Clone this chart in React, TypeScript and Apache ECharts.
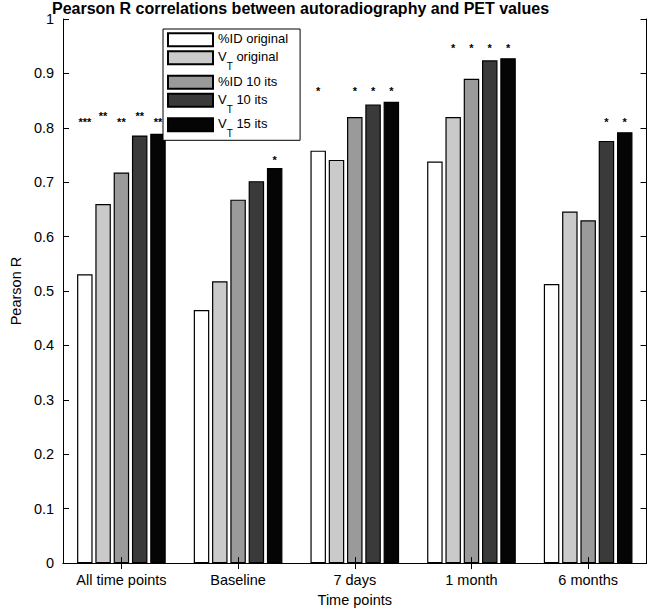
import React, { useEffect, useRef } from "react";
import * as echarts from "echarts";

const categories = ["All time points", "Baseline", "7 days", "1 month", "6 months"];
const seriesNames = ["%ID original", "V_T original", "%ID 10 its", "V_T 10 its", "V_T 15 its"];
const idOriginal = [0.531, 0.465, 0.758, 0.738, 0.513];
const vtOriginal = [0.66, 0.518, 0.741, 0.82, 0.646];
const id10its = [0.718, 0.668, 0.82, 0.89, 0.63];
const vt10its = [0.786, 0.702, 0.843, 0.924, 0.776];
const vt15its = [0.789, 0.726, 0.848, 0.928, 0.792];
const seriesValues = [idOriginal, vtOriginal, id10its, vt10its, vt15its];
const barColors = ["#ffffff", "#cacaca", "#9a9a9a", "#3a3a3a", "#050505"];

// significance marks: [category index, series index, level]
const sigMarks = [
  [0, 0, 0.8155], [0, 1, 0.828], [0, 2, 0.8155], [0, 3, 0.828], [0, 4, 0.8155],
  [1, 4, 0.746],
  [2, 0, 0.874], [2, 2, 0.874], [2, 3, 0.874], [2, 4, 0.874],
  [3, 1, 0.953], [3, 2, 0.953], [3, 3, 0.953], [3, 4, 0.953],
  [4, 3, 0.817], [4, 4, 0.817],
];
const sigText = [
  "***", "**", "**", "**", "**",
  "*",
  "*", "*", "*", "*",
  "*", "*", "*", "*",
  "*", "*",
];

const FONT = "'Liberation Sans', Arial, Helvetica, sans-serif";
const BAR_W = 15.5;
const BAR_GAP = 0.18;
const BAR_STEP = BAR_W * (1 + BAR_GAP);

export default function App() {
  const ref = useRef<HTMLDivElement>(null);
  useEffect(() => {
    if (!ref.current) return;
    const chart = echarts.init(ref.current, null, { renderer: "svg" });
    const legendFormatter = (name: string) => {
      if (name.startsWith("V_T")) {
        return "{n|V}{s|T}{n|" + name.slice(3) + "}";
      }
      return "{n|" + name + "}";
    };
    const axisCommon = {
      axisLine: { show: true, lineStyle: { color: "#000", width: 1 } },
      splitLine: { show: false },
    };
    chart.setOption({
      animation: false,
      backgroundColor: "#fff",
      textStyle: { fontFamily: FONT },
      title: {
        text: "Pearson R correlations between autoradiography and PET values",
        left: 52,
        top: 0,
        padding: 0,
        textStyle: { fontSize: 16, fontWeight: "bold", color: "#000", fontFamily: FONT },
      },
      grid: { left: 50.5, right: 1.5, top: 19, bottom: 45.5, show: false },
      legend: {
        orient: "vertical",
        left: 163,
        top: 29,
        itemWidth: 45,
        itemHeight: 13,
        itemGap: 3,
        padding: [3.3, 12, 1.5, 4],
        borderColor: "#000",
        borderWidth: 1,
        backgroundColor: "#fff",
        icon: "rect",
        selectedMode: false,
        data: seriesNames,
        formatter: legendFormatter,
        textStyle: {
          color: "#000",
          fontFamily: FONT,
          rich: {
            n: { fontSize: 13, lineHeight: 15, verticalAlign: "top", color: "#000", fontFamily: FONT },
            s: { fontSize: 10, lineHeight: 10, verticalAlign: "top", padding: [11.5, 0, 0, 0], color: "#000", fontFamily: FONT },
          },
        },
      },
      xAxis: [
        {
          type: "category",
          data: categories,
          position: "bottom",
          z: 3,
          ...axisCommon,
          axisTick: { show: true, inside: true, length: 6, alignWithLabel: true, lineStyle: { color: "#000" } },
          axisLabel: { color: "#000", fontSize: 14.5, margin: 9, interval: 0, fontFamily: FONT },
          name: "Time points",
          nameLocation: "middle",
          nameGap: 28,
          nameTextStyle: { color: "#000", fontSize: 14.5, fontFamily: FONT },
        },
        {
          type: "category",
          data: categories,
          position: "top",
          z: 3,
          ...axisCommon,
          axisTick: { show: true, inside: true, length: 6, alignWithLabel: true, lineStyle: { color: "#000" } },
          axisLabel: { show: false },
        },
      ],
      yAxis: [
        {
          type: "value",
          min: 0,
          max: 1,
          interval: 0.1,
          position: "left",
          z: 3,
          ...axisCommon,
          axisTick: { show: true, inside: true, length: 6, lineStyle: { color: "#000" } },
          axisLabel: { color: "#000", fontSize: 14.5, margin: 9, fontFamily: FONT },
          name: "Pearson R",
          nameLocation: "middle",
          nameGap: 31,
          nameTextStyle: { color: "#000", fontSize: 14.5, fontFamily: FONT },
        },
        {
          type: "value",
          min: 0,
          max: 1,
          interval: 0.1,
          position: "right",
          z: 3,
          ...axisCommon,
          axisTick: { show: true, inside: true, length: 6, lineStyle: { color: "#000" } },
          axisLabel: { show: false },
        },
      ],
      series: [
        ...seriesNames.map((name, i) => ({
          name,
          type: "bar",
          xAxisIndex: 0,
          yAxisIndex: 0,
          barWidth: BAR_W,
          barGap: BAR_GAP * 100 + "%",
          data: seriesValues[i],
          itemStyle: { color: barColors[i], borderColor: "#000", borderWidth: 1.2 },
          emphasis: { disabled: true },
        })),
        {
          type: "custom",
          xAxisIndex: 0,
          yAxisIndex: 0,
          silent: true,
          z: 5,
          encode: { x: 0, y: 2 },
          data: sigMarks,
          renderItem: (params: any, api: any) => {
            const p = api.coord([api.value(0), api.value(2)]);
            return {
              type: "text",
              x: p[0] + (api.value(1) - 2) * BAR_STEP,
              y: p[1] + 3,
              style: {
                text: sigText[params.dataIndex],
                fill: "#000",
                fontSize: 11,
                fontWeight: "bold",
                fontFamily: FONT,
                align: "center",
                verticalAlign: "middle",
              },
            };
          },
        },
      ],
    });
    return () => chart.dispose();
  }, []);
  return (
    <div
      ref={ref}
      style={{ position: "fixed", left: 0, top: 0, width: 648, height: 612, background: "#fff" }}
    />
  );
}
